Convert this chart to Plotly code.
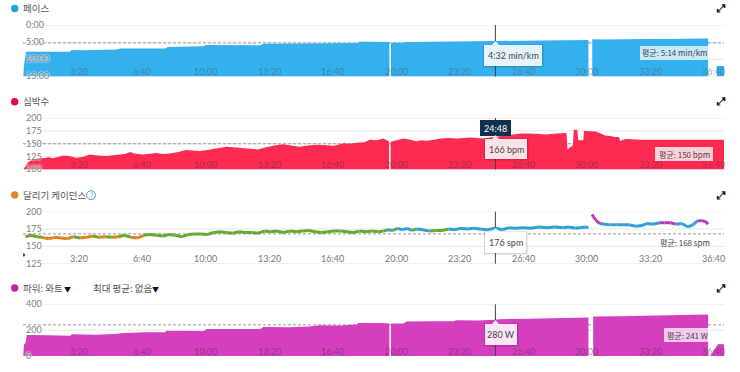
import plotly.graph_objects as go

W, H = 740, 372
T_MAX = 2208
FONT = "Noto Sans CJK KR"

tick_seconds = [200, 400, 600, 800, 1000, 1200, 1400, 1600, 1800, 2000, 2200]
tick_labels = ["3:20", "6:40", "10:00", "13:20", "16:40", "20:00", "23:20", "26:40", "30:00", "33:20", "36:40"]

pace_t = [1, 3, 10, 40, 75, 110, 148, 153, 190, 222, 260, 295, 306, 345, 379, 415, 447, 456, 490, 516, 545, 568, 576, 620, 663, 705, 747, 757, 800, 841, 890, 936, 988, 1020, 1051, 1062, 1093, 1135, 1154, None,
          1159, 1198, 1208, 1245, 1282, 1325, 1366, 1400, 1429, 1487, 1530, 1576, 1620, 1660, 1695, 1723, 1781, None,
          1793, 1835, 1880, 1920, 1964, 2010, 2059, 2100, 2143, 2158, None, 2185, 2208]
pace_v = [15, 11.7, 7.8, 7.75, 7.82, 7.78, 7.8, 7.3, 7.33, 7.25, 7.2, 7.12, 6.85, 6.82, 6.85, 6.8, 6.82, 6.42, 6.38, 6.35, 6.22, 6.2, 5.85, 5.88, 5.83, 5.85, 5.88, 5.45, 5.42, 5.45, 5.35, 5.38, 5.3, 5.28, 5.25, 4.88, 4.9, 4.95, 4.92, None,
          5.15, 5.15, 4.95, 4.98, 4.92, 4.9, 4.85, 4.8, 4.72, 4.66, 4.6, 4.55, 4.58, 4.48, 4.42, 4.45, 4.4, None,
          4.18, 4.22, 4.12, 4.1, 4.05, 4.08, 4.0, 3.95, 3.9, 3.92, None, 11.95, 11.95]

hr_t = [1, 12, 17, 30, 43, 55, 64, 80, 95, 110, 127, 145, 168, 190, 210, 235, 263, 290, 321, 337, 350, 378, 400, 420, 440, 462, 490, 513, 535, 556, 580, 600, 620, 640, 662, 680, 700, 720, 740, 765, 790, 805, 820, 845, 870, 905, 930, 955, 980, 1010, 1030, 1050, 1075, 1093, 1115, 1135, 1153, None,
        1158, 1177, 1198, 1220, 1240, 1255, 1272, 1295, 1314, 1340, 1366, 1390, 1408, 1430, 1450, 1480, 1510, 1530, 1545, 1570, 1596, 1620, 1650, 1680, 1712,
        1715, 1732, 1735, 1746, 1749, 1765, 1767, 1785, 1805, 1820, 1833, 1850, 1863, 1877, 1881, 1890, 1900, 1950, 2050, 2150, 2208]
hr_v = [100, 112, 115, 119, 121, 123, 122, 124, 122, 125, 127, 126, 123, 125, 129, 127, 126, 128, 130, 134, 131, 129, 131, 132, 130, 131, 134, 138, 137, 136, 138, 140, 142, 144, 143, 142, 141, 140, 139, 143, 147, 148, 149, 146, 144, 147, 148, 147, 146, 151, 150, 152, 153, 158, 157, 160, 155, None,
        154, 157, 160, 158, 155, 157, 156, 158, 160, 161, 160, 161, 162, 161, 160, 163, 165, 167, 168, 170, 170, 169, 168, 170, 171,
        139, 147, 177, 177, 157, 157, 175, 175, 174, 170, 166, 165, 163, 163, 155, 158, 159, 158, 158, 158, 158]

cad_t = [8, 25, 45, 60, 80, 100, 120, 140, 160, 180, 200, 220, 240, 260, 280, 300, 320, 340, 360, 380, 400, 420, 440, 460, 480, 500, 520, 540, 560, 580, 600, 620, 640, 660, 680, 700, 720, 740, 760, 780, 800, 820, 840, 860, 880, 900, 920, 940, 960, 980, 1000, 1020, 1040, 1060, 1080, 1100, 1120, 1135, 1150, 1165, 1180, 1195, 1210, 1225, 1240, 1260, 1280, 1300, 1320, 1340, 1360, 1380, 1400, 1420, 1440, 1460, 1488, 1510, 1530, 1550, 1575, 1600, 1625, 1650, 1675, 1700, 1720, 1740, 1755, 1770, 1781, None,
         1793, 1797, 1803, 1810, 1818, 1830, 1850, 1870, 1890, 1910, 1930, 1950, 1965, 1985, 2005, 2020, 2040, 2055, 2075, 2095, 2110, 2125, 2138, 2150, 2158]
cad_v = [164, 166, 164, 163, 161, 163, 162, 161, 164, 162, 163, 165, 163, 164, 163, 164, 166, 163, 162, 166, 167, 166, 165, 167, 166, 164, 167, 168, 168, 167, 170, 171, 170, 169, 171, 170, 170, 169, 172, 171, 172, 170, 172, 171, 172, 173, 171, 170, 171, 172, 172, 171, 170, 172, 171, 172, 171, 172, 174, 173, 176, 174, 176, 173, 175, 174, 172, 173, 173, 175, 174, 176, 175, 176, 175, 174, 176, 174, 177, 176, 177, 176, 178, 177, 178, 177, 178, 176, 177, 178, 177, None,
         196, 192, 189, 185, 183, 182, 181, 181, 181, 181, 179, 180, 183, 182, 184, 184, 184, 182, 183, 178, 181, 187, 187, 186, 182]

pw_t = [1, 3, 8, 12, 80, 150, 153, 230, 300, 306, 380, 447, 452, 520, 568, 580, 670, 747, 757, 840, 900, 936, 1000, 1051, 1056, 1093, 1135, 1154, None,
        1159, 1198, 1208, 1290, 1355, 1366, 1430, 1487, 1502, 1590, 1650, 1781, None,
        1796, 1880, 1964, 2060, 2143, 2158, None, 2166, 2175, 2190, 2208]
pw_v = [0, 90, 100, 163, 160, 157, 168, 165, 173, 176, 183, 183, 196, 192, 194, 209, 206, 209, 225, 222, 228, 238, 236, 243, 256, 258, 256, 251, None,
        251, 252, 266, 268, 269, 276, 274, 280, 285, 288, 292, 297, None,
        305, 308, 313, 316, 323, 322, None, 0, 43, 93, 90]

ticks_pace = [0, 5, 10, 15]
labels_pace = ["0:00", "5:00", "10:00", "15:00"]
ticks_hr = [100, 125, 150, 175, 200]
ticks_cad = [125, 150, 175, 200]
ticks_pw = [0, 200, 400]

mean_pace, mean_hr, mean_cad, mean_pw = 5 + 14 / 60, 150, 168, 241
cursor_t = 1488


def xp(px):
    return px / W


def yp(py):
    return 1 - py / H


panels = [
    dict(n=1, top=25, bottom=76.5, rng=[15, 0], ticks=ticks_pace, text=labels_pace, mean=mean_pace, col="rgba(70,90,110,0.55)"),
    dict(n=2, top=118, bottom=169.5, rng=[100, 200], ticks=ticks_hr, text=[str(v) for v in ticks_hr], mean=mean_hr, col="rgba(110,40,60,0.55)"),
    dict(n=3, top=211.7, bottom=263.7, rng=[125, 200], ticks=ticks_cad, text=[str(v) for v in ticks_cad], mean=mean_cad, col="#777777"),
    dict(n=4, top=304.3, bottom=356, rng=[0, 400], ticks=ticks_pw, text=[str(v) for v in ticks_pw], mean=mean_pw, col="rgba(90,40,90,0.55)"),
]

fig = go.Figure()
shapes = []
annotations = []
layout = {}
for p in panels:
    s = "" if p["n"] == 1 else str(p["n"])
    layout["xaxis" + s] = dict(
        domain=[xp(23), xp(724)], range=[0, T_MAX], anchor="y" + s,
        showticklabels=False, showgrid=False, zeroline=False, showline=False, ticks="", fixedrange=True,
    )
    layout["yaxis" + s] = dict(
        domain=[yp(p["bottom"]), yp(p["top"])], range=p["rng"], anchor="x" + s,
        showticklabels=False, showgrid=False, zeroline=False, showline=False, ticks="", fixedrange=True,
    )
    xr, yr = "x" + s, "y" + s
    for v, txt in zip(p["ticks"], p["text"]):
        shapes.append(dict(type="line", xref=xr, yref=yr, x0=54, x1=T_MAX, y0=v, y1=v,
                           line=dict(color="#e6e6e6", width=1), layer="below"))
        annotations.append(dict(xref=xr, yref=yr, x=0, y=v, text=txt, showarrow=False, xanchor="left",
                                yanchor="middle", xshift=1, yshift=0.5,
                                font=dict(family="Lato", size=9, color="#808080", shadow="0 0 2px #ffffff, 0 0 2px #ffffff")))
    bottom_v = p["rng"][0]
    for t, txt in zip(tick_seconds, tick_labels):
        annotations.append(dict(xref=xr, yref=yr, x=t, y=bottom_v, text=txt, showarrow=False, xanchor="center",
                                yanchor="middle", xshift=-7.5, yshift=5,
                                font=dict(family="Lato", size=9, color=p["col"])))
    shapes.append(dict(type="line", xref=xr, yref=yr, x0=0, x1=T_MAX, y0=p["mean"], y1=p["mean"],
                       line=dict(color="#999999", width=1, dash="3px,2px"), layer="below"))
    shapes.append(dict(type="line", xref=xr, yref="paper", x0=cursor_t, x1=cursor_t,
                       y0=yp(p["bottom"]), y1=yp(p["top"]),
                       line=dict(color="#444444", width=1), layer="above"))


def add_area(t, v, base, color, axis):
    seg_t, seg_v = [], []
    for a, b in list(zip(t, v)) + [(None, None)]:
        if a is None:
            if seg_t:
                fig.add_trace(go.Scatter(
                    x=[seg_t[0]] + seg_t + [seg_t[-1]], y=[base] + seg_v + [base],
                    mode="lines", fill="toself", fillcolor=color, line=dict(width=0),
                    hoverinfo="skip", showlegend=False, xaxis="x" + axis, yaxis="y" + axis))
            seg_t, seg_v = [], []
        else:
            seg_t.append(a)
            seg_v.append(b)


add_area(pace_t, pace_v, 15, "#35b0ef", "")
add_area(hr_t, hr_v, 100, "#fd2a52", "2")
add_area(pw_t, pw_v, 0, "#d53ebd", "4")


def zone(v):
    if v >= 184:
        return "#b83bb5"
    if v >= 174:
        return "#2f9fd6"
    if v >= 164:
        return "#66a82e"
    return "#e0801f"


lines = {}
for i in range(len(cad_t) - 1):
    if cad_t[i] is None or cad_t[i + 1] is None:
        continue
    c = zone(cad_v[i])
    d = lines.setdefault(c, ([], []))
    d[0].extend([cad_t[i], cad_t[i + 1], None])
    d[1].extend([cad_v[i], cad_v[i + 1], None])
for c, (xs, ys) in lines.items():
    fig.add_trace(go.Scatter(x=xs, y=ys, mode="lines", line=dict(color=c, width=3),
                             hoverinfo="skip", showlegend=False, xaxis="x3", yaxis="y3"))
fig.add_trace(go.Scatter(x=[2], y=[137.5], mode="markers", marker=dict(color="#a81038", size=3),
                         hoverinfo="skip", showlegend=False, xaxis="x3", yaxis="y3"))


def label(px, py, text, size=9.5, color="#555555", anchor="left", **kw):
    annotations.append(dict(xref="paper", yref="paper", x=xp(px), y=yp(py), text=text, showarrow=False,
                            xanchor=anchor, yanchor="middle", font=dict(family=FONT, size=size, color=color),
                            borderpad=0, **kw))


def dot(cx, cy, color, r=3.7):
    shapes.append(dict(type="circle", xref="paper", yref="paper", x0=xp(cx - r), x1=xp(cx + r),
                       y0=yp(cy + r), y1=yp(cy - r), fillcolor=color, line=dict(width=0), layer="above"))


dot(14.7, 8.5, "#1f9fe0")
dot(14.7, 101.7, "#dc1038")
dot(14.7, 195, "#e08525")
dot(14.7, 288, "#c425a6")
label(22, 8, "페이스")
label(22, 101.5, "심박수")
label(22, 195, "달리기 케이던스")
label(22, 288, "파워: 와트")
label(67, 288.5, "▼", size=7, color="#111111", anchor="center")
label(92, 288, "최대 평균: 없음")
label(155, 288.5, "▼", size=7, color="#111111", anchor="center")
shapes.append(dict(type="circle", xref="paper", yref="paper", x0=xp(86.5), x1=xp(95.5), y0=yp(199.7), y1=yp(190.7),
                   line=dict(color="#4a9fd0", width=1), layer="above"))
label(91, 195, "?", size=7, color="#4a9fd0", anchor="center")
for yy in (8.5, 101.5, 195, 288):
    label(721, yy, "<b>⤢</b>", size=11, color="#111111", anchor="center")
    annotations[-1]["font"]["family"] = "DejaVu Sans"


def box(x0, x1, y0, y1, text, bg, color="#444444", size=9, shadow=True, tip=None, family="Lato"):
    if shadow:
        shapes.append(dict(type="rect", xref="paper", yref="paper", x0=xp(x0 - 1), x1=xp(x1 + 1.5),
                           y0=yp(y1 + 1.5), y1=yp(y0 - 0.5), fillcolor="rgba(0,0,0,0.16)", line=dict(width=0), layer="above"))
    shapes.append(dict(type="rect", xref="paper", yref="paper", x0=xp(x0), x1=xp(x1), y0=yp(y1), y1=yp(y0),
                       fillcolor=bg, line=dict(width=0), layer="above"))
    if tip is not None:
        shapes.append(dict(type="path", xref="paper", yref="paper", fillcolor=bg, line=dict(width=0), layer="above",
                           path=f"M {xp(tip - 3.5)} {yp(y0)} L {xp(tip)} {yp(y0 - 4)} L {xp(tip + 3.5)} {yp(y0)} Z"))
    annotations.append(dict(xref="paper", yref="paper", x=xp((x0 + x1) / 2), y=yp((y0 + y1) / 2), text=text,
                            showarrow=False, xanchor="center", yanchor="middle",
                            font=dict(family=family, size=size, color=color)))


cx = 495.5
box(484, 542, 45, 66, "4:32 min/km", "#e6f3fb", tip=cx)
box(480, 511, 120, 136, "24:48", "#10304f", color="#ffffff", shadow=False)
box(485, 527, 139, 159, "166 bpm", "#fde3e8", tip=cx)
box(485, 526, 232, 253, "176 spm", "#ffffff", tip=cx)
box(485, 517, 324, 345, "280 W", "#fbe6f7", tip=cx)

box(640, 709, 46, 60, "평균: 5:14 min/km", "rgba(255,255,255,0.72)", size=8, shadow=False, family=FONT)
box(655, 713, 147, 161, "평균: 150 bpm", "rgba(255,255,255,0.78)", size=8, shadow=False, family=FONT)
label(685, 242.5, "평균: 168 spm", size=8, color="#444444", anchor="center")
box(664, 710, 328, 342, "평균: 241 W", "rgba(255,255,255,0.72)", size=8, shadow=False, family=FONT)

fig.update_layout(width=W, height=H, autosize=False, margin=dict(l=0, r=0, t=0, b=0),
                  paper_bgcolor="#ffffff", plot_bgcolor="rgba(0,0,0,0)",
                  showlegend=False, shapes=shapes, annotations=annotations, **layout)
fig.write_html("out.html", config=dict(displayModeBar=False), post_script="document.body.style.margin='0';")
